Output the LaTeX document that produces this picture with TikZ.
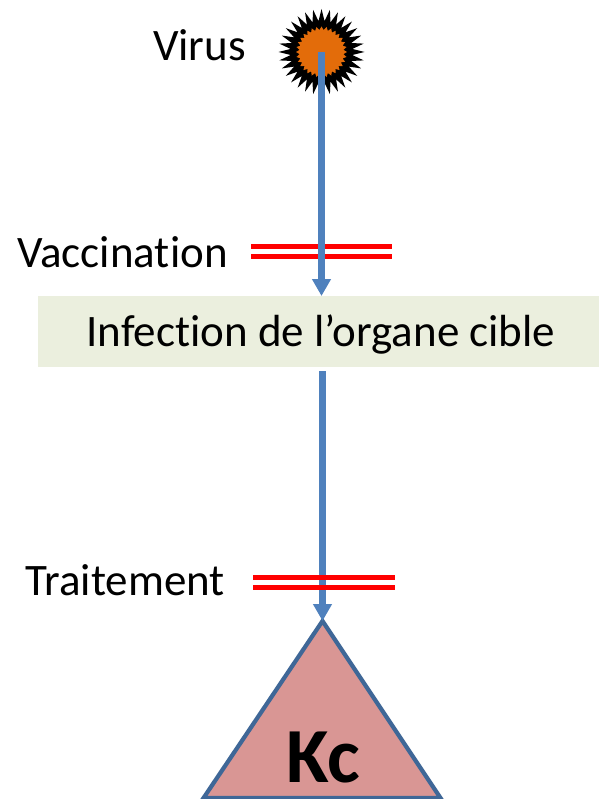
\documentclass[tikz,border=0pt]{standalone}
\usepackage{fontspec}
\setmainfont{Carlito}[Ligatures=NoCommon]
\usetikzlibrary{arrows.meta}
\definecolor{flow}{HTML}{4F81BD}
\definecolor{boxfill}{HTML}{EBEFDE}
\definecolor{tri}{HTML}{D99694}
\definecolor{triline}{HTML}{3F6797}
\definecolor{virusorange}{HTML}{E36C0A}
\tikzset{
  flowline/.style={draw=flow,line width=6.2pt,-{Triangle[length=17pt,width=18pt]}},
  blockline/.style={draw=red,line width=5pt},
  lbl/.style={inner sep=0pt,font=\fontsize{45}{45}\selectfont,text=black,anchor=base}
}
\begin{document}
\begin{tikzpicture}[x=1pt,y=-1pt]
\useasboundingbox (0,0) rectangle (599,799);
\fill[white] (0,0) rectangle (599,799);
% virus
\coordinate (virus) at (321.5,52);
\fill[black] plot[samples=65,domain=0:64,variable=\k] ({321.5+(mod(\k,2)==0?43:31)*cos(\k*5.625)},{52+(mod(\k,2)==0?43:31)*sin(\k*5.625)}) -- cycle;
\fill[virusorange] plot[samples=65,domain=0:64,variable=\k] ({321.5+(mod(\k,2)==0?25.5:22)*cos(\k*5.625)},{52+(mod(\k,2)==0?25.5:22)*sin(\k*5.625)}) -- cycle;
% box
\node[fill=boxfill,minimum width=561pt,minimum height=71pt,inner sep=0pt,anchor=north west] (organ) at (38,296) {};
\node[lbl] (organtxt) at (321,346) {Infection de l’organe cible};
% triangle
\coordinate (apex) at (322.5,621);
\coordinate (bl) at (203.5,798);
\coordinate (br) at (440.5,798);
\coordinate (restart) at (322.5,371);
\filldraw[fill=tri,draw=triline,line width=4.2pt,line join=miter] (apex) -- (br) -- (bl) -- cycle;
\node[inner sep=0pt,anchor=base,font=\fontsize{78}{78}\bfseries\selectfont] (kc) at (323,782) {Kc};
% blocks and arrows
\coordinate (va) at (251,246.7); \coordinate (vb) at (392,246.7);
\coordinate (vc) at (251,256.7); \coordinate (vd) at (392,256.7);
\coordinate (ta) at (253,577); \coordinate (tb) at (395,577);
\coordinate (tc) at (253,587); \coordinate (td) at (395,587);
\draw[blockline] (va) -- (vb);
\draw[blockline] (vc) -- (vd);
\draw[flowline] (virus) -- (virus |- organ.north);
\draw[flowline] (restart) -- (apex);
\draw[blockline] (ta) -- (tb);
\draw[blockline] (tc) -- (td);
% labels
\node[lbl] (vir) at (199.5,61) {Virus};
\node[lbl] (vac) at (122.5,267) {Vaccination};
\node[lbl] (trt) at (125,595) {Traitement};
\end{tikzpicture}
\end{document}
